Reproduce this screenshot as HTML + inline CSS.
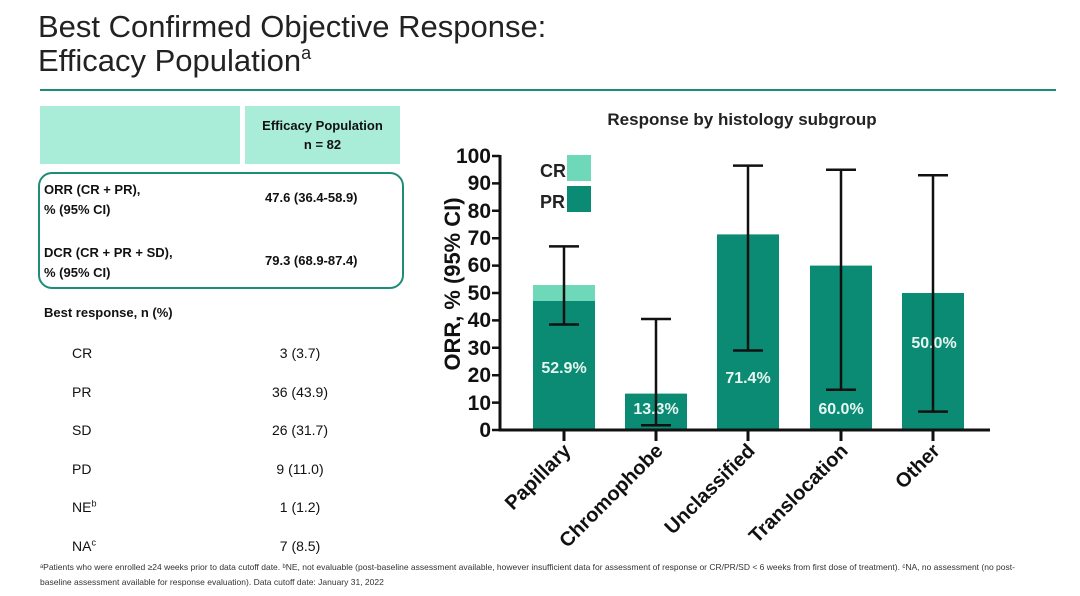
<!DOCTYPE html>
<html><head><meta charset="utf-8"><style>
body{margin:0;width:1080px;height:596px;background:#fff;font-family:"Liberation Sans",Arial,sans-serif;position:relative;overflow:hidden;color:#111}
.abs{position:absolute}
.t{font-size:31px;left:38px;line-height:33px;color:#222}
.b{font-weight:bold}
</style></head><body>
<div class="abs t" style="top:10px">Best Confirmed Objective Response:</div>
<div class="abs t" style="top:44px">Efficacy Population<sup style="font-size:18px;vertical-align:12px;line-height:0">a</sup></div>
<div class="abs" style="left:40px;top:89px;width:1016px;height:2px;background:#1f8c78"></div>
<div class="abs" style="left:40px;top:106px;width:200px;height:58px;background:#a9ecd7"></div>
<div class="abs b" style="left:245px;top:106px;width:155px;height:58px;background:#a9ecd7;font-size:13px;text-align:center;line-height:19px;padding-top:10px;box-sizing:border-box">Efficacy Population<br>n = 82</div>
<div class="abs" style="left:38px;top:172px;width:362px;height:113px;border:2px solid #1f8c78;border-radius:14px"></div>
<div class="abs b" style="left:44px;top:180px;font-size:13px;line-height:20px">ORR (CR + PR),<br>% (95% CI)</div>
<div class="abs b" style="left:265px;top:190px;font-size:13px">47.6 (36.4-58.9)</div>
<div class="abs b" style="left:44px;top:243px;font-size:13px;line-height:20px">DCR (CR + PR + SD),<br>% (95% CI)</div>
<div class="abs b" style="left:265px;top:253px;font-size:13px">79.3 (68.9-87.4)</div>
<div class="abs b" style="left:44px;top:305px;font-size:13px">Best response, n (%)</div>
<div class="abs" style="left:72px;top:334px;font-size:14px;line-height:38.6px">CR<br>PR<br>SD<br>PD<br>NE<sup style="font-size:9px;line-height:0">b</sup><br>NA<sup style="font-size:9px;line-height:0">c</sup></div>
<div class="abs" style="left:260px;width:80px;text-align:center;top:334px;font-size:14px;line-height:38.6px">3 (3.7)<br>36 (43.9)<br>26 (31.7)<br>9 (11.0)<br>1 (1.2)<br>7 (8.5)</div>
<div class="abs" style="left:40px;top:560px;font-size:8.5px;line-height:15px;color:#333;width:1040px">ᵃPatients who were enrolled ≥24 weeks prior to data cutoff date. ᵇNE, not evaluable (post-baseline assessment available, however insufficient data for assessment of response or CR/PR/SD &lt; 6 weeks from first dose of treatment). ᶜNA, no assessment (no post-<br>baseline assessment available for response evaluation). Data cutoff date: January 31, 2022</div>
<svg class="abs" style="left:0;top:0" width="1080" height="596" font-family="Liberation Sans, Arial, sans-serif" font-weight="bold">
<text x="742" y="125" font-size="17" text-anchor="middle" fill="#222">Response by histology subgroup</text>
<text transform="translate(460 284) rotate(-90)" font-size="22" text-anchor="middle" fill="#111" textLength="173" lengthAdjust="spacingAndGlyphs">ORR, % (95% CI)</text>
<g fill="#0b8a74">
<rect x="533" y="301" width="62" height="129"/>
<rect x="625" y="393.6" width="62" height="36.4"/>
<rect x="717" y="234.4" width="62" height="195.6"/>
<rect x="810" y="265.6" width="62" height="164.4"/>
<rect x="902" y="293" width="62" height="137"/>
<rect x="567" y="186" width="24" height="26"/>
</g>
<g fill="#6fd8b8"><rect x="533" y="285" width="62" height="16"/><rect x="567" y="155" width="24" height="26"/></g>
<text x="540" y="177" font-size="18" fill="#222">CR</text>
<text x="540" y="208" font-size="18" fill="#222">PR</text>
<g fill="#e6f6f1" font-size="16" text-anchor="middle">
<text x="564" y="373">52.9%</text><text x="656" y="414">13.3%</text><text x="748" y="383">71.4%</text><text x="841" y="414">60.0%</text><text x="934" y="348">50.0%</text>
</g>
<g stroke="#111" stroke-width="2.5" fill="none">
<path d="M564 324.5V246.4M549 324.5h30M549 246.4h30"/>
<path d="M656 425.3V319M641 425.3h30M641 319h30"/>
<path d="M748 350.5V165.6M733 350.5h30M733 165.6h30"/>
<path d="M841 389.7V169.7M826 389.7h30M826 169.7h30"/>
<path d="M933 411.6V175.2M918 411.6h30M918 175.2h30"/>
<path d="M500 155V430H990" stroke-width="3"/>
<path d="M564 430v11M656 430v11M748 430v11M841 430v11M933 430v11" stroke-width="3"/>
<path d="M492 430h8M492 402.6h8M492 375.2h8M492 347.8h8M492 320.4h8M492 293h8M492 265.6h8M492 238.2h8M492 210.8h8M492 183.4h8M492 156h8"/>
</g>
<g font-size="21" text-anchor="end" fill="#111">
<text x="491" y="437">0</text><text x="491" y="410">10</text><text x="491" y="382">20</text><text x="491" y="355">30</text><text x="491" y="327">40</text><text x="491" y="300">50</text><text x="491" y="272">60</text><text x="491" y="245">70</text><text x="491" y="218">80</text><text x="491" y="190">90</text><text x="491" y="163">100</text>
</g>
<g font-size="20" text-anchor="end" fill="#111">
<text transform="translate(572 452) rotate(-45)">Papillary</text>
<text transform="translate(664 452) rotate(-45)">Chromophobe</text>
<text transform="translate(756 452) rotate(-45)">Unclassified</text>
<text transform="translate(849 452) rotate(-45)">Translocation</text>
<text transform="translate(941 452) rotate(-45)">Other</text>
</g>
</svg>
</body></html>
